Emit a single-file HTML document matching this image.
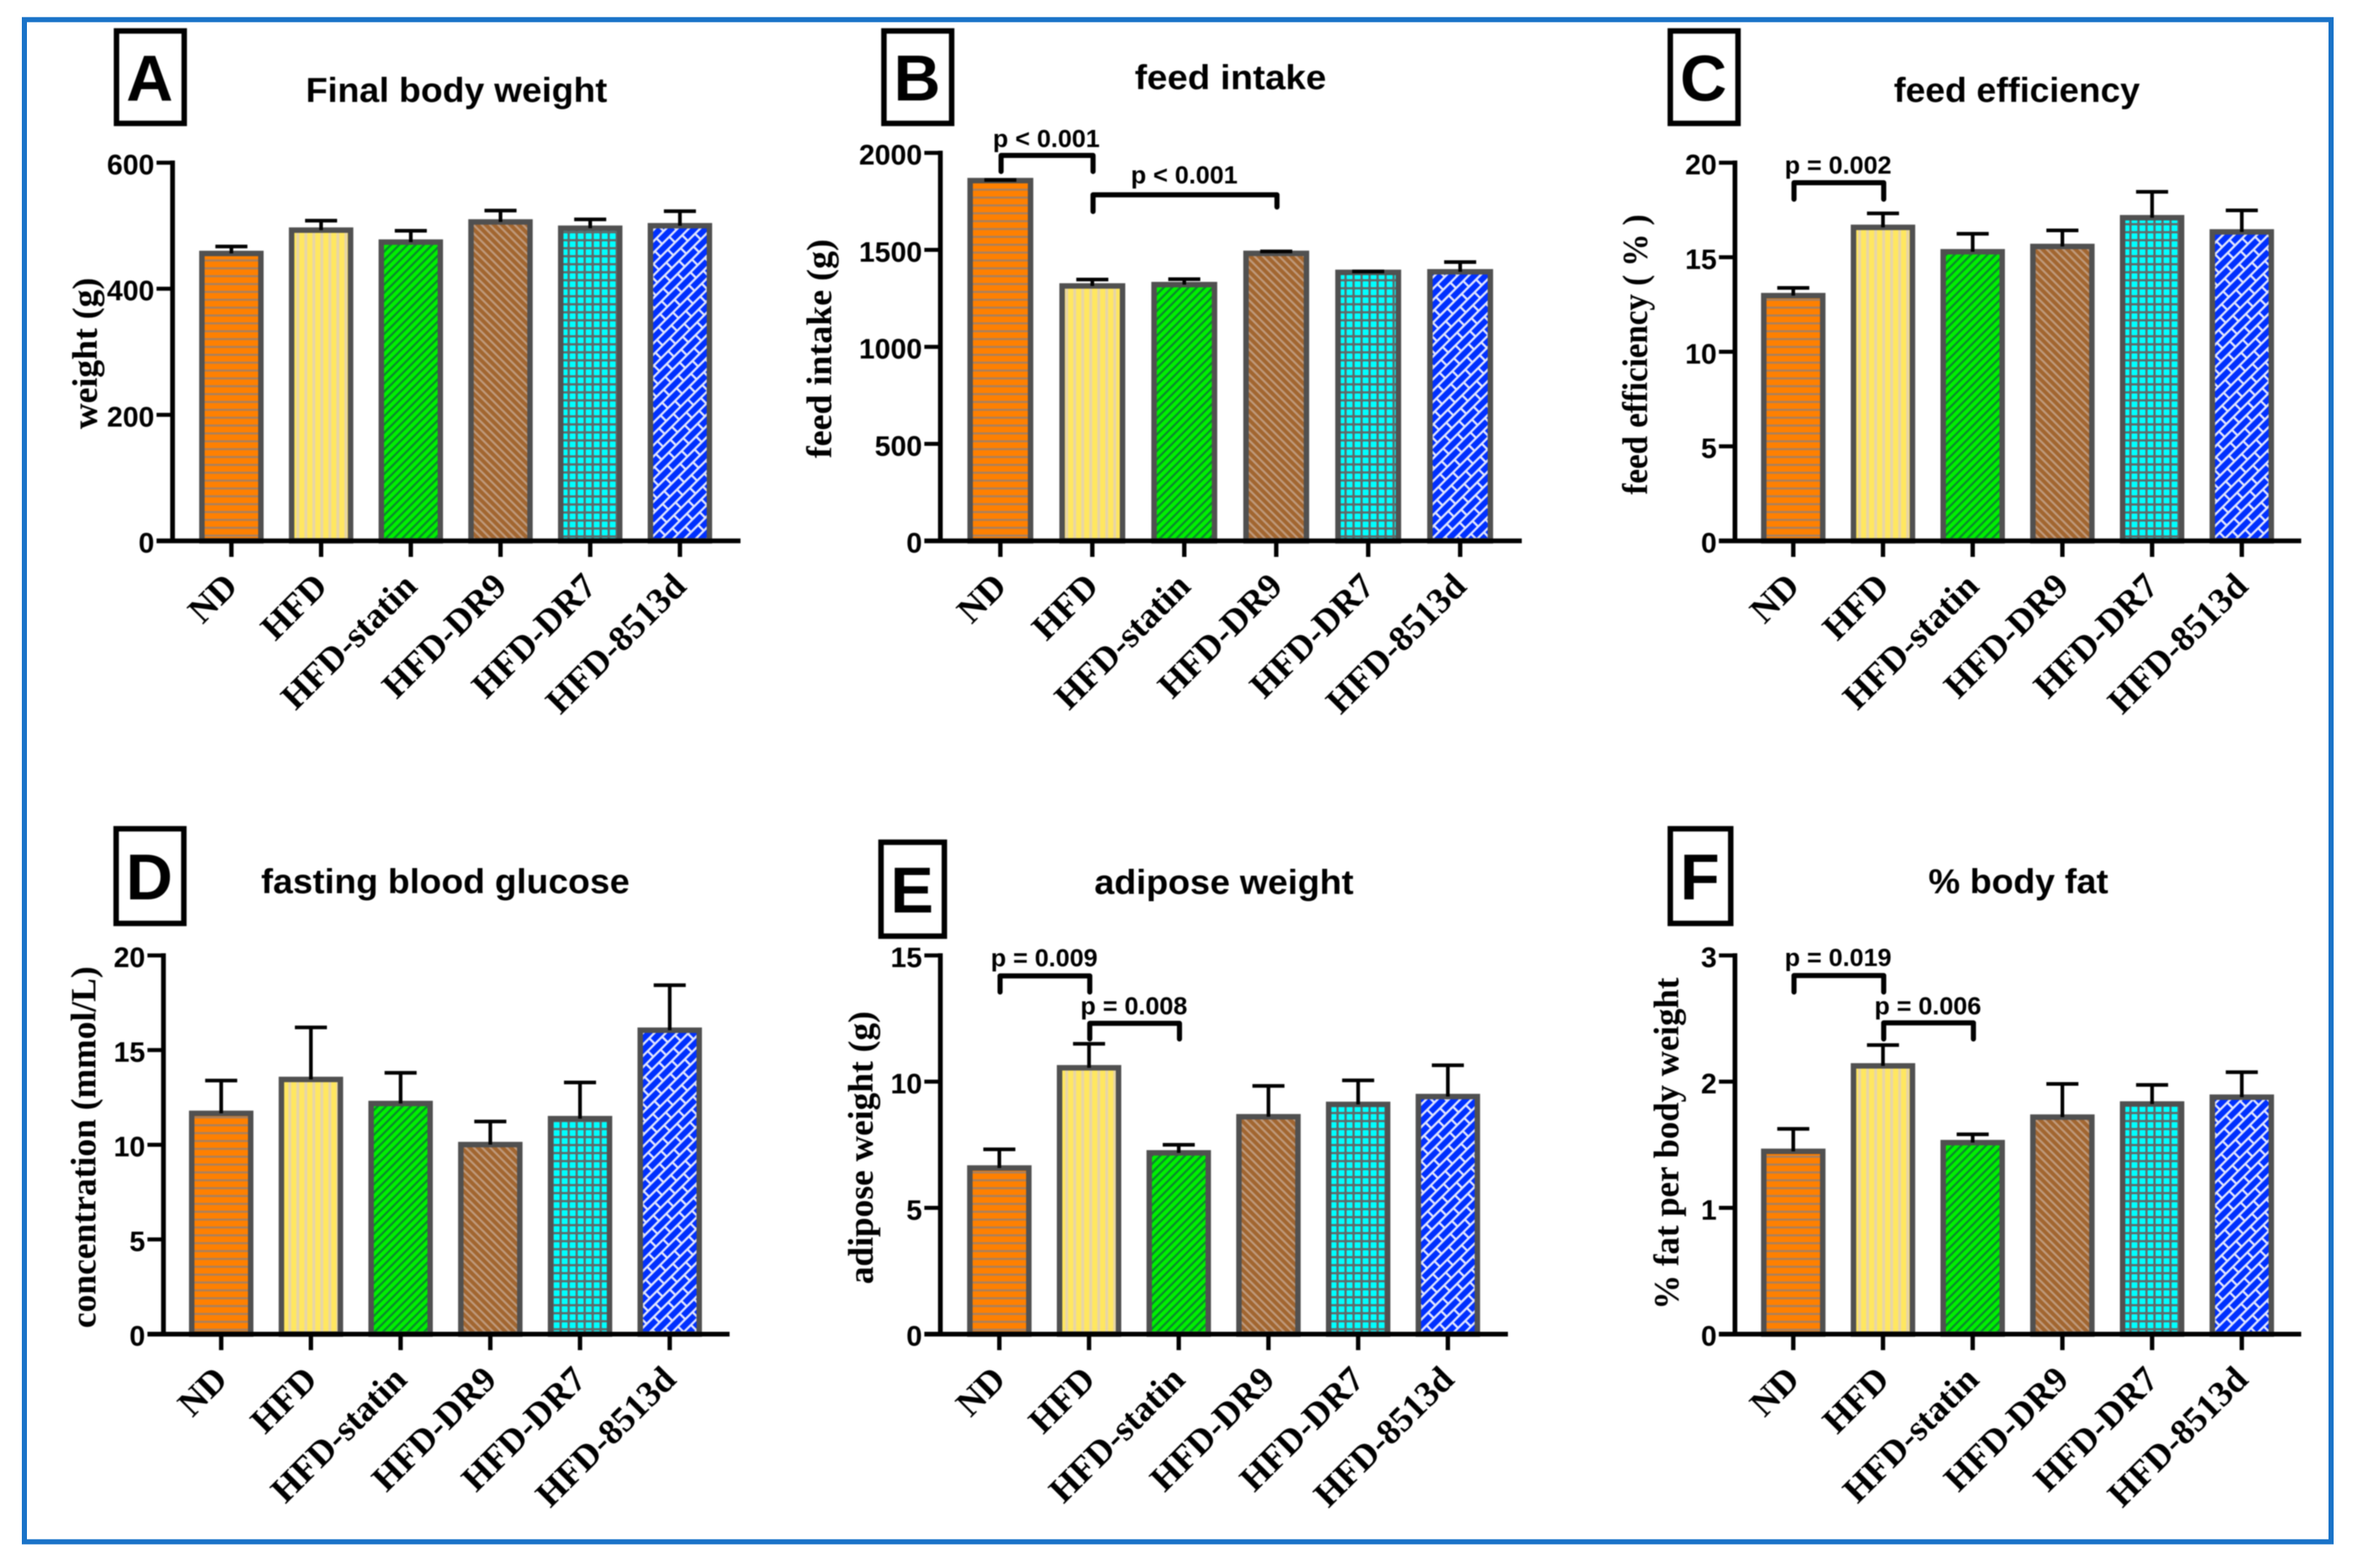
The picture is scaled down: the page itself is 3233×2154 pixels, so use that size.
<!DOCTYPE html>
<html lang="en">
<head>
<meta charset="utf-8">
<title>Six-panel bar chart</title>
<style>
html,body{margin:0;padding:0;background:#fff;}
svg{display:block;}
#charts{filter:blur(0.8px);}
.sans{font-family:"Liberation Sans",Arial,sans-serif;font-weight:700;fill:#000;}
.serif{font-family:"Liberation Serif","Times New Roman",serif;font-weight:700;fill:#000;}
</style>
</head>
<body>
<svg id="figure" xmlns="http://www.w3.org/2000/svg" width="3233" height="2154" viewBox="0 0 3233 2154">
  <defs>
    <pattern id="pat-orange" patternUnits="userSpaceOnUse" width="10" height="10.8">
      <rect width="10" height="10.8" fill="#ff8000"/><rect y="0" width="10" height="2.8" fill="#a8805f"/>
    </pattern>
    <pattern id="pat-yellow" patternUnits="userSpaceOnUse" width="11" height="10">
      <rect width="11" height="10" fill="#ffe760"/><rect x="0" width="4" height="10" fill="#e8d6a6"/>
    </pattern>
    <pattern id="pat-green" patternUnits="userSpaceOnUse" width="8" height="8" patternTransform="rotate(45)">
      <rect width="8" height="8" fill="#00f000"/><rect width="3" height="8" fill="#0a8a2c"/>
    </pattern>
    <pattern id="pat-brown" patternUnits="userSpaceOnUse" width="8" height="8" patternTransform="rotate(-45)">
      <rect width="8" height="8" fill="#a26630"/><rect width="2.8" height="8" fill="#bf9a7c"/>
    </pattern>
    <pattern id="pat-cyan" patternUnits="userSpaceOnUse" width="11" height="11">
      <rect width="11" height="11" fill="#5f6a6a"/><rect x="1.5" y="1.5" width="8" height="8" rx="1" fill="#00ffff"/>
    </pattern>
    <pattern id="pat-blue" patternUnits="userSpaceOnUse" width="28" height="22" patternTransform="rotate(-45)">
      <rect width="28" height="22" fill="#dfe4ff"/>
      <rect x="1.5" y="1.5" width="25" height="8" fill="#0030ff"/>
      <rect x="15.5" y="12.5" width="25" height="8" fill="#0030ff"/>
      <rect x="-12.5" y="12.5" width="25" height="8" fill="#0030ff"/>
    </pattern>
  </defs>
  <rect x="33.5" y="27" width="3168" height="2091" fill="#fff" stroke="#1a73c8" stroke-width="7"/>
  <g id="charts"></g>
</svg>
<script>
const categories = ['ND', 'HFD', 'HFD-statin', 'HFD-DR9', 'HFD-DR7', 'HFD-8513d'];

const aValues = [456, 493, 474, 506, 496, 500];
const aUpper = [467, 508, 492, 524, 510, 523];
const aTicks = [0, 200, 400, 600];

const bValues = [1857, 1314, 1321, 1482, 1384, 1387];
const bUpper = [1860, 1347, 1349, 1492, 1389, 1437];
const bTicks = [0, 500, 1000, 1500, 2000];

const cValues = [12.97, 16.58, 15.29, 15.57, 17.09, 16.34];
const cUpper = [13.38, 17.32, 16.24, 16.42, 18.46, 17.48];
const cTicks = [0, 5, 10, 15, 20];

const dValues = [11.66, 13.45, 12.18, 10.01, 11.38, 16.05];
const dUpper = [13.39, 16.2, 13.8, 11.23, 13.29, 18.43];
const dTicks = [0, 5, 10, 15, 20];

const eValues = [6.58, 10.55, 7.18, 8.61, 9.1, 9.41];
const eUpper = [7.32, 11.5, 7.5, 9.83, 10.05, 10.65];
const eTicks = [0, 5, 10, 15];

const fValues = [1.448, 2.125, 1.517, 1.719, 1.823, 1.877];
const fUpper = [1.626, 2.29, 1.583, 1.982, 1.974, 2.075];
const fTicks = [0, 1, 2, 3];

const bBrackets = [
  {from: 0, to: 1, top: 1987, footA: 1904, footB: 1904, labelAt: 2030, label: 'p < 0.001'},
  {from: 1, to: 3, top: 1784, footA: 1698, footB: 1721, labelAt: 1842, label: 'p < 0.001'}
];
const cBrackets = [
  {from: 0, to: 1, top: 18.94, footA: 18.07, footB: 18.07, labelAt: 19.43, label: 'p = 0.002'}
];
const eBrackets = [
  {from: 0, to: 1, top: 14.19, footA: 13.55, footB: 13.55, labelAt: 14.57, label: 'p = 0.009'},
  {from: 1, to: 2, top: 12.31, footA: 11.69, footB: 11.69, labelAt: 12.66, label: 'p = 0.008'}
];
const fBrackets = [
  {from: 0, to: 1, top: 2.841, footA: 2.71, footB: 2.71, labelAt: 2.915, label: 'p = 0.019'},
  {from: 1, to: 2, top: 2.466, footA: 2.338, footB: 2.338, labelAt: 2.532, label: 'p = 0.006'}
];

const barFills = ['pat-orange', 'pat-yellow', 'pat-green', 'pat-brown', 'pat-cyan', 'pat-blue'];

const panels = [
  {id: 'a', letter: 'A', title: 'Final body weight', yTitle: 'weight (g)', values: aValues, upper: aUpper, ticks: aTicks, brackets: [],
   axisX: 237, top: 223.5, base: 743, xEnd: 1017, first: 317.8, step: 123.2, barW: 81,
   box: [160, 42.5, 93, 127], titleX: 627, titleY: 140, titleW: 414, yTitleX: 133, yTitleY: 485.5, yTitleW: 208},
  {id: 'b', letter: 'B', title: 'feed intake', yTitle: 'feed intake (g)', values: bValues, upper: bUpper, ticks: bTicks, brackets: bBrackets,
   axisX: 1291.5, top: 210, base: 743, xEnd: 2090, first: 1373.9, step: 126.3, barW: 83,
   box: [1214, 42.5, 93, 127], titleX: 1690, titleY: 122.5, titleW: 263, yTitleX: 1141.5, yTitleY: 479, yTitleW: 301},
  {id: 'c', letter: 'C', title: 'feed efficiency', yTitle: 'feed efficiency ( % )', values: cValues, upper: cUpper, ticks: cTicks, brackets: cBrackets,
   axisX: 2382.8, top: 223.5, base: 743, xEnd: 3160.5, first: 2462.9, step: 123.2, barW: 81,
   box: [2294, 42.5, 93, 127], titleX: 2770, titleY: 140, titleW: 338, yTitleX: 2262, yTitleY: 487, yTitleW: 385},
  {id: 'd', letter: 'D', title: 'fasting blood glucose', yTitle: 'concentration (mmol/L)', values: dValues, upper: dUpper, ticks: dTicks, brackets: [],
   axisX: 224.5, top: 1312.5, base: 1832.7, xEnd: 1002, first: 303.8, step: 123.2, barW: 81,
   box: [159.5, 1138.5, 93, 130], titleX: 611.7, titleY: 1227, titleW: 506, yTitleX: 131, yTitleY: 1576, yTitleW: 497},
  {id: 'e', letter: 'E', title: 'adipose weight', yTitle: 'adipose weight (g)', values: eValues, upper: eUpper, ticks: eTicks, brackets: eBrackets,
   axisX: 1291.5, top: 1312.5, base: 1832.7, xEnd: 2071, first: 1372.5, step: 123.2, barW: 81,
   box: [1210, 1157, 87, 129], titleX: 1681, titleY: 1228, titleW: 356, yTitleX: 1198.4, yTitleY: 1576.6, yTitleW: 375},
  {id: 'f', letter: 'F', title: '% body fat', yTitle: '% fat per body weight', values: fValues, upper: fUpper, ticks: fTicks, brackets: fBrackets,
   axisX: 2382.8, top: 1312.5, base: 1832.7, xEnd: 3160.5, first: 2462.9, step: 123.2, barW: 81,
   box: [2294, 1138.5, 83, 130], titleX: 2772, titleY: 1227, titleW: 247, yTitleX: 2305, yTitleY: 1571, yTitleW: 456}
];

const SVGNS = 'http://www.w3.org/2000/svg';
const root = document.getElementById('charts');

function make(tag, attrs, parent, text) {
  const node = document.createElementNS(SVGNS, tag);
  for (const k in attrs) node.setAttribute(k, attrs[k]);
  if (text !== undefined) node.textContent = text;
  parent.appendChild(node);
  return node;
}

function slug(s) {
  return s.toLowerCase().replace(/[^a-z0-9]+/g, '-');
}

panels.forEach(function (p) {
  const maxValue = p.ticks[p.ticks.length - 1];
  const yScale = function (v) { return p.base - (v / maxValue) * (p.base - p.top); };
  const xScale = function (i) { return p.first + i * p.step; };

  const g = make('g', {}, root);
  
  

  const box = make('rect', {x: p.box[0], y: p.box[1], width: p.box[2], height: p.box[3], fill: '#fff', stroke: '#000', 'stroke-width': 7.5}, g);
  
  

  const letter = make('text', {class: 'sans', x: p.box[0] + p.box[2] / 2 - 1, y: p.box[1] + p.box[3] / 2 + 32, 'text-anchor': 'middle', 'font-size': 89}, g, p.letter);
  
  

  const title = make('text', {class: 'sans', x: p.titleX, y: p.titleY, 'text-anchor': 'middle', 'font-size': 47, textLength: p.titleW, lengthAdjust: 'spacingAndGlyphs'}, g, p.title);
  
  

  const yTitle = make('text', {class: 'serif', transform: 'translate(' + p.yTitleX + ' ' + p.yTitleY + ') rotate(-90)', 'text-anchor': 'middle', 'font-size': 49, textLength: p.yTitleW, lengthAdjust: 'spacingAndGlyphs'}, g, p.yTitle);
  
  

  p.values.forEach(function (v, i) {
    const cx = xScale(i);
    const barTop = yScale(v);
    const bar = make('rect', {x: cx - p.barW / 2, y: barTop, width: p.barW, height: p.base - barTop, fill: 'url(#' + barFills[i] + ')', stroke: '#505050', 'stroke-width': 7.5}, g);
    
    

    const capY = yScale(p.upper[i]);
    const err = make('path', {d: 'M' + cx + ' ' + barTop + 'V' + capY + 'M' + (cx - 22) + ' ' + capY + 'H' + (cx + 22), fill: 'none', stroke: '#000', 'stroke-width': 5}, g);
    
    
  });

  const yAxis = make('line', {x1: p.axisX, x2: p.axisX, y1: p.top - 3, y2: p.base + 3, stroke: '#000', 'stroke-width': 6.5}, g);
  
  

  const xAxis = make('line', {x1: p.axisX - 22, x2: p.xEnd, y1: p.base, y2: p.base, stroke: '#000', 'stroke-width': 6.5}, g);
  
  

  p.ticks.forEach(function (t) {
    const y = yScale(t);
    const tick = make('line', {x1: p.axisX - 22, x2: p.axisX, y1: y, y2: y, stroke: '#000', 'stroke-width': 5.5}, g);
    
    

    const label = make('text', {class: 'sans', x: p.axisX - 25, y: y + 16, 'text-anchor': 'end', 'font-size': 39}, g, String(t));
    
    
  });

  categories.forEach(function (c, i) {
    const x = xScale(i);
    const tick = make('line', {x1: x, x2: x, y1: p.base, y2: p.base + 22, stroke: '#000', 'stroke-width': 6}, g);
    
    

    const label = make('text', {class: 'serif', transform: 'translate(' + (x + 11) + ' ' + (p.base + 65) + ') rotate(-45)', 'text-anchor': 'end', 'font-size': 49.5}, g, c);
    
    
  });

  p.brackets.forEach(function (b) {
    const x1 = xScale(b.from) + 1;
    const x2 = xScale(b.to) + 1;
    const bracket = make('path', {d: 'M' + x1 + ' ' + yScale(b.footA) + 'V' + yScale(b.top) + 'H' + x2 + 'V' + yScale(b.footB), fill: 'none', stroke: '#000', 'stroke-width': 7, 'stroke-linecap': 'round', 'stroke-linejoin': 'round'}, g);
    
    

    const label = make('text', {class: 'sans', x: (x1 + x2) / 2 - 1, y: yScale(b.labelAt), 'text-anchor': 'middle', 'font-size': 34.5}, g, b.label);
    
    
  });
});
</script>
</body>
</html>
